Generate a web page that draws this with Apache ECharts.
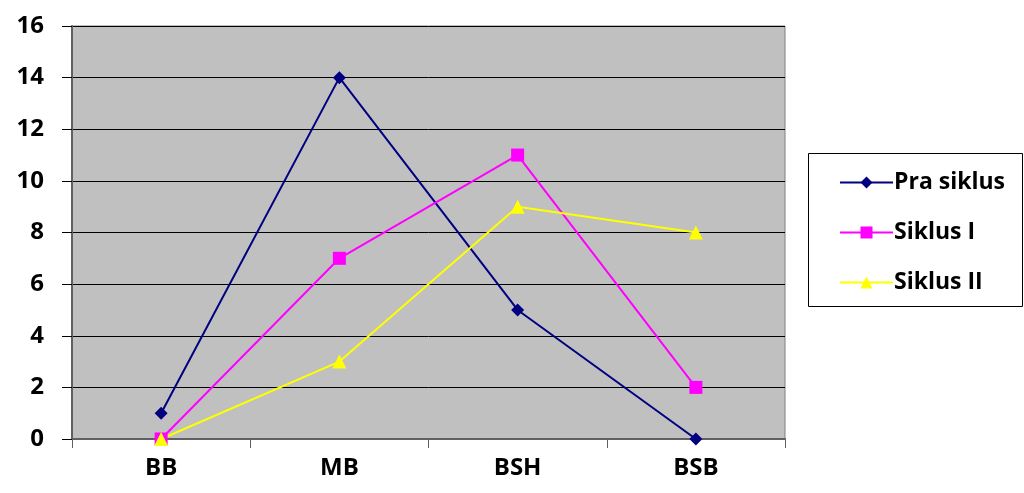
<!DOCTYPE html>
<html><head><meta charset="utf-8">
<script src="https://cdn.jsdelivr.net/npm/echarts@6/dist/echarts.min.js"></script>
<style>html,body{margin:0;padding:0;background:#fff}#c{width:1024px;height:493px}</style>
</head><body><div id="c"></div>
<script>
const categories = ['BB', 'MB', 'BSH', 'BSB'];
const praSiklus = [1, 14, 5, 0];
const siklusI = [0, 7, 11, 2];
const siklusII = [0, 3, 9, 8];
const seriesNames = ['Pra siklus', 'Siklus I', 'Siklus II'];

const font = '"Open Sans", "Noto Sans", sans-serif';
const chart = echarts.init(document.getElementById('c'));
chart.setOption({
  animation: false,
  backgroundColor: '#fff',
  grid: { left: 72, right: 239, top: 26, bottom: 54, show: true, backgroundColor: '#c0c0c0', borderColor: '#808080', borderWidth: 1 },
  graphic: [{ type: 'rect', shape: { x: 808.5, y: 153.5, width: 214, height: 153 }, style: { fill: '#fff', stroke: '#000', lineWidth: 1 }, z: 0 }],
  legend: {
    orient: 'vertical', left: 834, top: 166, itemWidth: 53, itemHeight: 15, itemGap: 27,
    textStyle: { fontFamily: font, fontWeight: 'bold', fontSize: 23, color: '#000', padding: [0, 0, 0, -4] },
    data: seriesNames
  },
  xAxis: {
    type: 'category', data: categories, boundaryGap: true,
    axisLine: { lineStyle: { color: '#606060', width: 2 } },
    axisTick: { show: true, length: 9, lineStyle: { color: '#606060' } },
    axisLabel: { fontFamily: font, fontWeight: 'bold', fontSize: 24, color: '#000', margin: 17 }
  },
  yAxis: {
    type: 'value', min: 0, max: 16, interval: 2,
    axisLine: { show: true, lineStyle: { color: '#606060', width: 2 } },
    axisTick: { show: true, length: 10, lineStyle: { color: '#000' } },
    splitLine: { lineStyle: { color: '#000', width: 1 } },
    axisLabel: { fontFamily: font, fontWeight: 'bold', fontSize: 24, color: '#000', margin: 28 }
  },
  series: [
    { name: seriesNames[0], type: 'line', data: praSiklus, symbol: 'diamond', symbolSize: 13, color: '#000080', lineStyle: { width: 2 } },
    { name: seriesNames[1], type: 'line', data: siklusI, symbol: 'rect', symbolSize: 13, color: '#ff00ff', lineStyle: { width: 2 } },
    { name: seriesNames[2], type: 'line', data: siklusII, symbol: 'triangle', symbolSize: 14, color: '#ffff00', lineStyle: { width: 2 } }
  ]
});
</script></body></html>
